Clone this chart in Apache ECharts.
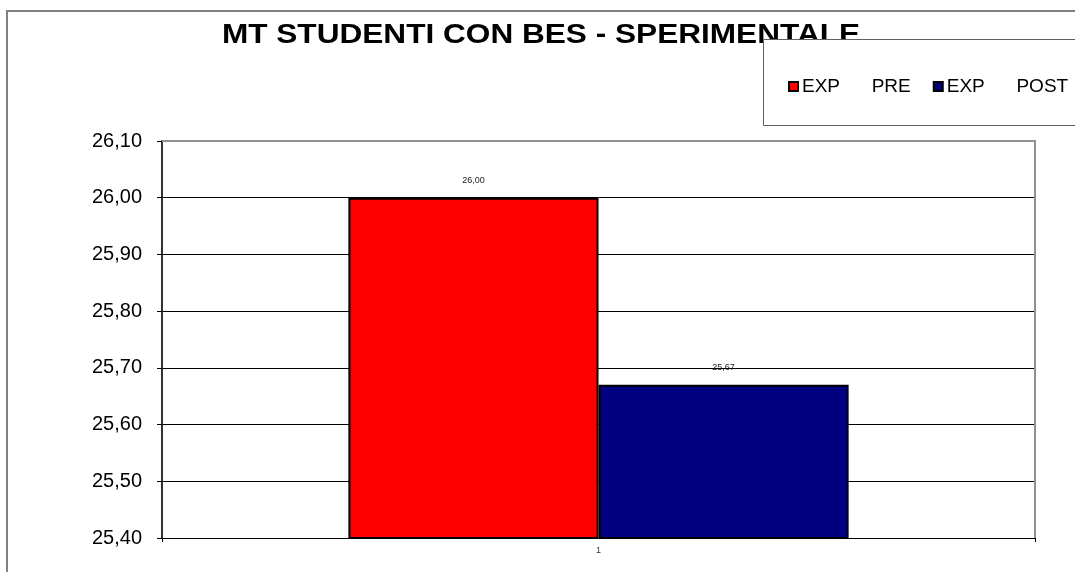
<!DOCTYPE html>
<html>
<head>
<meta charset="utf-8">
<script src="https://cdn.jsdelivr.net/npm/echarts@6/dist/echarts.min.js"></script>
<style>
  html, body { margin: 0; padding: 0; background: #ffffff; }
  #chart { width: 1075px; height: 572px; }
</style>
</head>
<body>
<div id="chart"></div>
<script>
// Chart data
const titleText = 'MT STUDENTI CON BES - SPERIMENTALE';
const categories = ['1'];
const seriesNames = ['EXP      PRE', 'EXP      POST'];
const expPre = [26.00];
const expPost = [25.67];
const seriesColors = ['#FF0000', '#000080'];
const yMin = 25.4, yMax = 26.1, yStep = 0.1;

const fmt = v => v.toFixed(2).replace('.', ',');
const font = '"Liberation Sans", Arial, sans-serif';

const chart = echarts.init(document.getElementById('chart'), null, { renderer: 'canvas' });

const barLabel = {
  show: true,
  position: 'top',
  distance: 13,
  fontFamily: font,
  fontSize: 9,
  color: '#222',
  formatter: p => fmt(p.value)
};

chart.setOption({
  animation: false,
  backgroundColor: '#ffffff',
  legend: {
    data: seriesNames,
    left: 783,
    top: 72,
    width: 600,
    z: 20,
    itemWidth: 9,
    itemHeight: 9,
    itemGap: 22,
    icon: 'rect',
    textStyle: { fontFamily: font, fontSize: 19, color: '#000', padding: [0, 0, 0, -1] }
  },
  grid: { left: 162, right: 40, top: 141, bottom: 34, containLabel: false },
  xAxis: {
    type: 'category',
    data: categories,
    axisLine: { lineStyle: { color: '#000', width: 1 } },
    axisTick: { show: true, length: 4, lineStyle: { color: '#000' } },
    axisLabel: { fontFamily: font, fontSize: 9, color: '#333', margin: 8 }
  },
  yAxis: {
    type: 'value',
    min: yMin,
    max: yMax,
    interval: yStep,
    axisLine: { show: true, lineStyle: { color: '#333', width: 2 } },
    axisTick: { show: true, length: 5, lineStyle: { color: '#000' } },
    axisLabel: { fontFamily: font, fontSize: 20, color: '#000', margin: 20, formatter: v => fmt(v) },
    splitLine: { show: true, lineStyle: { color: '#000', width: 1 } }
  },
  series: [
    {
      name: seriesNames[0],
      type: 'bar',
      data: expPre,
      barGap: '0%',
      barCategoryGap: '42.7%',
      itemStyle: { color: seriesColors[0], borderColor: '#000', borderWidth: 2 },
      label: barLabel
    },
    {
      name: seriesNames[1],
      type: 'bar',
      data: expPost,
      itemStyle: { color: seriesColors[1], borderColor: '#000', borderWidth: 2 },
      label: barLabel
    }
  ],
  graphic: [
    // chart title
    { type: 'text', z: 1, silent: true, x: 541, y: 22, scaleX: 1.17,
      style: { text: titleText, fontFamily: font, fontSize: 27, fontWeight: 'bold',
               fill: '#000', textAlign: 'center', textVerticalAlign: 'top' } },
    // outer chart frame
    { type: 'rect', z: 30, silent: true,
      shape: { x: 7, y: 11, width: 1100, height: 600 },
      style: { fill: null, stroke: '#808080', lineWidth: 2 } },
    // plot area top and right border
    { type: 'polyline', z: 30, silent: true,
      shape: { points: [[162, 141], [1035, 141], [1035, 538]] },
      style: { fill: null, stroke: '#909090', lineWidth: 2 } },
    // legend box
    { type: 'rect', z: 10, silent: true,
      shape: { x: 763.5, y: 39.5, width: 400, height: 86 },
      style: { fill: '#ffffff', stroke: '#606060', lineWidth: 1 } }
  ]
});
</script>
</body>
</html>
